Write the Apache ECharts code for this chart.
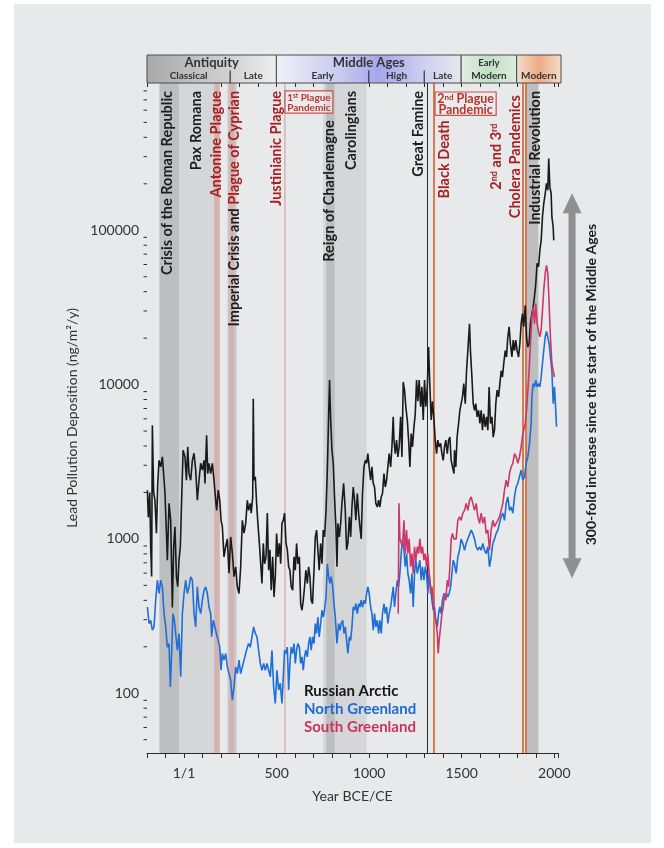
<!DOCTYPE html>
<html>
<head>
<meta charset="utf-8">
<title>Lead pollution deposition</title>
<script src="https://cdn.jsdelivr.net/npm/echarts/dist/echarts.min.js"></script>
<style>
  html, body { margin: 0; padding: 0; background: #ffffff; }
  #panel { position: absolute; left: 14px; top: 4px; width: 637px; height: 839px; background: #e8e9eb; }
  #chart { position: absolute; left: 0; top: 0; width: 664px; height: 848px; }
</style>
</head>
<body>
<div id="panel"></div>
<div id="chart"></div>
<script>
// ---- Lead deposition records: [year, ng/m²/y] ----
const russianArctic = [
  [-198,2070],[-193,1380],[-185,2000],[-180,890],[-175,570],[-171,5450],[-164,2000],[-157,1780],[-149,1090],[-142,2290],
  [-135,3230],[-126,2930],[-117,3400],[-108,3400],[-103,2000],[-95,1090],[-90,728],[-81,1700],[-72,1320],[-63,360],
  [-56,890],[-49,1200],[-41,570],[-34,490],[-27,728],[-20,890],[-13,1780],[-5,3760],[5,3400],[13,2400],
  [20,3950],[27,2650],[36,2400],[45,3230],[54,3590],[63,2790],[72,1780],[81,2400],[90,3090],[99,2790],
  [108,3230],[113,2290],[122,4700],[128,2650],[135,3090],[144,2650],[153,3090],[162,2400],[171,1780],[176,1530],
  [185,2070],[193,1780],[200,1320],[207,1200],[216,765],[225,890],[234,1000],[243,600],[252,1030],[261,807],
  [270,570],[279,660],[288,490],[297,443],[306,660],[315,1320],[324,1090],[333,1260],[342,1780],[349,1530],
  [358,1700],[363,1470],[371,1870],[374,8100],[378,2400],[385,2530],[392,1700],[399,1260],[407,935],[414,690],
  [421,515],[428,935],[435,690],[443,765],[450,1470],[457,627],[464,850],[471,465],[479,765],[486,420],
  [493,570],[500,1085],[507,765],[515,935],[522,690],[529,1260],[536,1320],[543,1470],[551,935],[558,850],
  [565,660],[572,627],[579,490],[587,465],[594,765],[601,627],[608,935],[615,690],[623,765],[630,380],
  [637,345],[644,400],[651,490],[658,627],[666,515],[673,660],[680,570],[687,400],[694,380],[702,627],
  [709,1030],[716,1140],[723,850],[730,627],[738,935],[745,690],[752,1140],[759,1030],[767,1530],[774,2790],
  [781,6180],[786,10700],[792,5890],[799,3760],[806,3090],[813,1870],[821,1140],[826,660],[831,1260],[839,1030],
  [846,1260],[853,1700],[862,2290],[871,1530],[878,850],[885,935],[893,1390],[900,1030],[907,1610],[914,2170],
  [921,1780],[928,1320],[936,1970],[943,1470],[950,1200],[957,1000],[964,1970],[972,2930],[979,3230],[986,3090],
  [993,3570],[1000,2930],[1008,2400],[1015,2930],[1022,2290],[1029,2170],[1036,1700],[1044,1610],[1051,1780],[1058,1610],
  [1065,1870],[1072,1970],[1080,2650],[1087,2170],[1094,2400],[1101,2930],[1108,3570],[1116,2930],[1123,3950],[1130,6180],
  [1134,4370],[1141,3570],[1148,4370],[1155,3400],[1162,3950],[1170,6180],[1177,3400],[1184,10400],[1191,9200],[1198,7180],
  [1206,5890],[1213,4370],[1220,2930],[1227,4820],[1234,3950],[1242,5320],[1249,6460],[1256,10700],[1263,7800],[1270,10700],
  [1278,7180],[1285,9660],[1292,5890],[1299,10700],[1306,7180],[1314,9660],[1321,17500],[1328,9660],[1335,5890],[1342,7800],
  [1350,5890],[1357,4370],[1364,3570],[1371,4370],[1378,3950],[1386,4160],[1393,3570],[1400,3230],[1407,3950],[1414,4370],
  [1422,3570],[1429,4370],[1436,4570],[1443,3230],[1450,2930],[1458,2650],[1461,3760],[1468,2930],[1475,4570],[1483,5600],
  [1490,6820],[1497,7530],[1504,8320],[1511,10150],[1519,7530],[1526,12300],[1533,16600],[1542,24800],[1547,16600],[1555,11200],
  [1562,7530],[1569,6820],[1576,7530],[1583,6180],[1591,6820],[1598,5600],[1605,6820],[1612,5070],[1619,6460],[1627,5320],
  [1634,6180],[1641,5070],[1648,9660],[1655,5600],[1663,6180],[1670,4570],[1677,5070],[1684,7530],[1691,9200],[1699,8320],
  [1706,10150],[1713,12300],[1720,11200],[1727,13700],[1735,16600],[1742,15100],[1749,20400],[1756,23700],[1763,18400],[1771,15100],
  [1778,19400],[1785,16600],[1792,19400],[1799,16600],[1807,15100],[1814,18400],[1821,24800],[1828,28800],[1835,23700],[1843,32700],
  [1850,20400],[1857,17500],[1864,18400],[1871,24800],[1879,28800],[1886,31800],[1893,37200],[1900,45200],[1907,61000],[1915,58000],
  [1922,74000],[1929,86000],[1936,122000],[1943,149000],[1951,173000],[1958,201000],[1965,182000],[1970,292000],[1976,191000],[1983,173000],
  [1987,122000],[1994,105000],[1997,86000]
];

const northGreenland = [
  [-198,362],[-189,283],[-180,297],[-171,256],[-162,269],[-153,401],[-144,540],[-135,443],[-126,540],[-117,489],
  [-108,328],[-99,269],[-90,199],[-81,210],[-74,110],[-67,181],[-60,328],[-52,297],[-45,244],[-36,190],
  [-27,244],[-18,128],[-9,328],[0,443],[9,540],[18,443],[27,489],[36,568],[45,540],[54,328],
  [63,269],[72,489],[81,362],[90,328],[99,401],[108,465],[117,489],[126,443],[135,362],[144,328],
  [149,232],[158,297],[167,269],[175,244],[184,220],[193,199],[200,141],[207,181],[216,164],[225,181],
  [234,148],[243,134],[252,121],[261,90],[270,110],[279,148],[288,134],[297,164],[306,134],[315,148],
  [324,164],[333,181],[342,199],[349,210],[358,199],[367,232],[376,269],[385,244],[394,232],[403,190],
  [412,156],[421,141],[430,156],[439,141],[448,156],[457,156],[466,128],[475,190],[484,110],[493,86],
  [502,141],[511,105],[520,116],[529,86],[538,141],[543,190],[551,181],[558,199],[565,105],[572,156],
  [579,199],[587,181],[594,210],[601,156],[608,190],[615,210],[623,199],[630,156],[637,172],[644,141],
  [651,172],[658,190],[666,172],[673,210],[680,232],[687,190],[694,232],[702,210],[709,283],[716,244],
  [723,312],[730,232],[738,283],[745,345],[752,312],[759,345],[767,421],[774,690],[781,570],[788,515],
  [795,570],[803,490],[810,380],[817,312],[826,210],[835,283],[842,256],[849,283],[857,297],[864,244],
  [871,269],[878,220],[885,181],[893,232],[900,220],[907,269],[914,362],[921,345],[928,380],[936,328],
  [943,380],[950,362],[957,401],[964,362],[972,401],[979,380],[986,443],[993,489],[1000,443],[1008,362],
  [1015,328],[1022,256],[1029,328],[1036,269],[1044,297],[1051,244],[1058,297],[1065,244],[1072,328],[1080,380],
  [1087,328],[1094,362],[1101,283],[1108,328],[1116,362],[1123,362],[1130,489],[1137,362],[1144,443],[1152,540],
  [1159,489],[1166,597],[1173,804],[1180,1000],[1188,845],[1195,660],[1202,804],[1209,597],[1216,540],[1224,443],
  [1231,597],[1238,362],[1245,597],[1252,728],[1260,597],[1267,660],[1274,728],[1281,540],[1288,660],[1296,540],
  [1303,660],[1310,597],[1317,443],[1324,597],[1332,489],[1339,401],[1346,345],[1353,362],[1360,297],[1368,269],
  [1375,328],[1382,362],[1389,328],[1396,401],[1404,443],[1411,401],[1418,443],[1425,421],[1432,443],[1440,489],
  [1447,597],[1454,728],[1461,690],[1470,597],[1479,765],[1488,845],[1497,1000],[1506,935],[1515,845],[1524,935],
  [1533,1000],[1542,1030],[1551,1140],[1560,1085],[1569,1000],[1578,890],[1587,845],[1596,890],[1605,845],[1614,935],
  [1623,845],[1632,804],[1641,890],[1650,660],[1659,765],[1668,935],[1677,1000],[1686,1085],[1695,1140],[1704,1260],
  [1713,1390],[1722,1470],[1731,1320],[1740,1700],[1749,1870],[1758,1530],[1767,1610],[1776,1470],[1785,1870],[1794,2170],
  [1803,2290],[1812,2530],[1821,2790],[1830,2400],[1839,2530],[1848,3090],[1857,3400],[1866,4150],[1875,5600],[1879,8320],
  [1886,10150],[1893,9660],[1900,10700],[1907,9660],[1915,10150],[1922,9660],[1929,11200],[1936,13700],[1943,16600],[1951,20400],
  [1958,22100],[1965,22600],[1972,18400],[1979,15100],[1987,12300],[1994,7530],[2001,9660],[2006,7530],[2012,5320]
];

const southGreenland = [
  [1157,328],[1161,1700],[1166,1000],[1173,1030],[1180,890],[1188,1320],[1195,804],[1202,1140],[1209,804],[1216,1000],
  [1224,660],[1231,804],[1238,597],[1245,890],[1252,728],[1260,890],[1267,804],[1274,1000],[1281,804],[1288,890],
  [1296,728],[1303,804],[1310,660],[1317,804],[1324,597],[1332,443],[1339,489],[1346,401],[1353,328],[1360,297],
  [1368,244],[1373,181],[1378,220],[1386,269],[1393,328],[1400,362],[1407,443],[1414,401],[1422,540],[1429,489],
  [1436,660],[1443,1000],[1450,1085],[1458,1000],[1470,1000],[1479,1320],[1488,1390],[1497,1320],[1506,1470],[1515,1530],
  [1524,1700],[1533,1530],[1542,1780],[1551,1870],[1560,1700],[1569,1530],[1578,1700],[1587,1390],[1596,1260],[1605,1470],
  [1614,1260],[1623,1390],[1632,1085],[1641,1140],[1650,845],[1659,1140],[1668,1320],[1677,1200],[1686,1260],[1695,1320],
  [1704,1390],[1713,1530],[1722,1700],[1731,2070],[1740,2400],[1749,2170],[1758,2650],[1767,2930],[1776,3090],[1785,3570],
  [1794,3400],[1803,3090],[1812,3400],[1821,3950],[1830,4820],[1835,5070],[1843,5600],[1850,6820],[1857,9200],[1864,12300],
  [1871,18400],[1879,27500],[1886,31800],[1893,24800],[1900,33500],[1907,24800],[1915,22100],[1922,20400],[1929,22600],[1936,30100],
  [1943,40900],[1951,52500],[1958,59300],[1965,52500],[1972,33500],[1979,20400],[1987,13700],[1994,12300],[2001,11200]
];

// ---- Axis ticks ----
const xTickLabels = { 0: '1/1', 500: '500', 1000: '1000', 1500: '1500', 2000: '2000' };
const yMinorTicks = [
  50,60,70,80,90, 200,300,400,500,600,700,800,900,
  2000,3000,4000,5000,6000,7000,8000,9000,
  20000,30000,40000,50000,60000,70000,80000,90000,
  200000,300000,400000,500000,600000,700000,800000
];

// ---- Historical periods (header bar) ----
const eraNames  = ['Antiquity', 'Middle Ages', 'Early', ''];
const eraStart  = [-200, 500, 1500, 1800];
const eraEnd    = [500, 1500, 1800, 2040];
const subNames  = ['Classical', 'Late', 'Early', 'High', 'Late', 'Modern', 'Modern'];
const subStart  = [-200, 250, 500, 1000, 1300, 1500, 1800];
const subEnd    = [250, 500, 1000, 1300, 1500, 1800, 2040];

// ---- Events: shaded intervals and single-year markers ----
const bandNames = ['Pax Romana', 'Crisis of the Roman Republic', 'Antonine Plague', 'Imperial Crisis',
                   'Plague of Cyprian', 'Justinianic Plague', 'Carolingians', 'Reign of Charlemagne', 'Industrial Revolution'];
const bandStart = [-27, -133, 163, 235, 245, 541, 751, 768, 1850];
const bandEnd   = [180, -27, 193, 284, 270, 549, 987, 814, 1914];
const bandKind  = ['light', 'dark', 'plague', 'mid', 'plague', 'plague', 'light', 'dark', 'dark'];

const markerNames = ['Great Famine', 'Black Death', '2nd Cholera Pandemic', '3rd Cholera Pandemic'];
const markerYears = [1315, 1347, 1829, 1846];
const markerKind  = ['famine', 'plague', 'plague', 'plague'];

// ---- Styling ----
const FONT = 'Lato, "Liberation Sans", "DejaVu Sans", sans-serif';
const INK = '#1c1c1c';
const RED = '#a82020';
const CAPTION_SIZE = 14.5;
const bandColors = { light: '#d5d6d8', dark: '#bdbec0', mid: '#c8c9cb', plague: '#d5b2b2' };
const markerColors = { famine: '#2a2a2a', plague: '#d4561f' };
const eraFills = [
  new echarts.graphic.LinearGradient(0, 0, 1, 0, [
    { offset: 0, color: '#a9a9a9' }, { offset: 0.6, color: '#cfcfcf' }, { offset: 1, color: '#eeeeee' }]),
  new echarts.graphic.LinearGradient(0, 0, 1, 0, [
    { offset: 0, color: '#f0f0f8' }, { offset: 0.35, color: '#c9c9f1' }, { offset: 0.55, color: '#a6a6ec' },
    { offset: 0.8, color: '#cfcff1' }, { offset: 1, color: '#e7e7f0' }]),
  new echarts.graphic.LinearGradient(0, 0, 1, 0, [
    { offset: 0, color: '#e3ede4' }, { offset: 0.5, color: '#bfe1c5' }, { offset: 1, color: '#dcebde' }]),
  new echarts.graphic.LinearGradient(0, 0, 1, 0, [
    { offset: 0, color: '#f3ddcf' }, { offset: 0.5, color: '#efab82' }, { offset: 1, color: '#f3dccd' }])
];
const eraTitleSize = [13, 13, 9.5, 0];

// Rotated event captions: anchor year, value at the caption's upper end (or centre), colour key
const captions = [
  { text: 'Crisis of the Roman Republic', year: -90, at: 800000, tone: 'ink', align: 'right' },
  { text: 'Pax Romana', year: 65, at: 800000, tone: 'ink', align: 'right' },
  { text: 'Antonine Plague', year: 173, at: 800000, tone: 'red', align: 'right' },
  { text: '{k|Imperial Crisis and }{r|Plague of Cyprian}', year: 272, at: 800000, tone: 'rich', align: 'right' },
  { text: 'Justinianic Plague', year: 497, at: 800000, tone: 'red', align: 'right' },
  { text: 'Reign of Charlemagne', year: 785, at: 516000, tone: 'ink', align: 'right' },
  { text: 'Carolingians', year: 906, at: 800000, tone: 'ink', align: 'right' },
  { text: 'Great Famine', year: 1266, at: 800000, tone: 'ink', align: 'right' },
  { text: 'Black Death', year: 1405, at: 516000, tone: 'red', align: 'right' },
  { text: '{r|2}{s|nd}{r| and 3}{s|rd}', year: 1689, at: 300000, tone: 'rich', align: 'center' },
  { text: 'Cholera Pandemics', year: 1788, at: 300000, tone: 'red', align: 'center' },
  { text: 'Industrial Revolution', year: 1896, at: 800000, tone: 'ink', align: 'right' }
];

// Boxed pandemic captions: [x0, x1, top value, bottom value]
const pandemicText = ['{a|1}{s|st}{a| Plague}\n{a|Pandemic}', '{b|2}{t|nd}{b| Plague}\n{b|Pandemic}'];
const pandemicBox  = [[545, 804, 800000, 575000], [1356, 1686, 787000, 556000]];

// Double arrow: year, upper value, lower value
const increaseArrow = [[2096, 174000, 556]];
const increaseText = '300-fold increase since the start of the Middle Ages';
const increaseTextAt = [2199, 10000];

const chart = echarts.init(document.getElementById('chart'), null, { renderer: 'canvas' });

const captionRich = {
  k: { fill: INK, fontSize: CAPTION_SIZE, fontWeight: 'bold', fontFamily: FONT },
  r: { fill: RED, fontSize: CAPTION_SIZE, fontWeight: 'bold', fontFamily: FONT },
  s: { fill: RED, fontSize: 9, fontWeight: 'bold', fontFamily: FONT, verticalAlign: 'top' }
};
const boxRich = {
  a: { fill: '#b8342c', fontSize: 10, fontWeight: 'bold', fontFamily: FONT, lineHeight: 10 },
  s: { fill: '#b8342c', fontSize: 6.5, fontWeight: 'bold', fontFamily: FONT, verticalAlign: 'top', lineHeight: 10 },
  b: { fill: '#b8342c', fontSize: 12.5, fontWeight: 'bold', fontFamily: FONT, lineHeight: 11 },
  t: { fill: '#b8342c', fontSize: 8, fontWeight: 'bold', fontFamily: FONT, verticalAlign: 'top', lineHeight: 11 }
};

const lineSeries = (name, data, color) => ({
  name, type: 'line', data, xAxisIndex: 0, yAxisIndex: 0, z: 3,
  showSymbol: false, symbol: 'none', silent: true,
  lineStyle: { color, width: 1.6 }, itemStyle: { color }
});

const option = {
  backgroundColor: 'transparent',
  animation: false,
  textStyle: { fontFamily: FONT },
  grid: [
    { left: 147, right: 106, top: 83, bottom: 95, outerBoundsMode: 'none', containLabel: false },
    { left: 147, right: 103, top: 55, height: 28, outerBoundsMode: 'none', containLabel: false }
  ],
  xAxis: [
    {
      type: 'value', gridIndex: 0, min: -200, max: 2020, interval: 100,
      name: 'Year BCE/CE', nameLocation: 'middle', nameGap: 36,
      nameTextStyle: { color: '#333', fontSize: 14, fontFamily: FONT },
      axisLine: { show: true, onZero: false, lineStyle: { color: '#2b2b2b', width: 1 } },
      axisTick: { show: true, length: 5, lineStyle: { color: '#2b2b2b' } },
      axisLabel: { color: '#333', fontSize: 14, margin: 13, fontFamily: FONT,
        formatter: v => (xTickLabels[v] !== undefined ? xTickLabels[v] : '') },
      splitLine: { show: false }
    },
    {
      type: 'value', gridIndex: 0, position: 'top', min: -200, max: 2020, interval: 100,
      axisLine: { show: false }, axisLabel: { show: false }, splitLine: { show: false },
      axisTick: { show: true, inside: true, length: 4, lineStyle: { color: '#2b2b2b' } }
    },
    { type: 'value', gridIndex: 1, min: -200, max: 2040, show: false }
  ],
  yAxis: [
    {
      type: 'log', logBase: 10, gridIndex: 0, min: 41, max: 900000,
      name: 'Lead Pollution Deposition (ng/m²/y)', nameLocation: 'middle', nameGap: 66,
      nameTextStyle: { color: '#333', fontSize: 14, fontFamily: FONT },
      axisLine: { show: true, lineStyle: { color: '#2b2b2b', width: 1 } },
      axisTick: { show: true, length: 6, lineStyle: { color: '#2b2b2b' } },
      axisLabel: { color: '#333', fontSize: 14, margin: 8, fontFamily: FONT,
        showMinLabel: false, showMaxLabel: false,
        formatter: v => String(Math.round(v)) },
      splitLine: { show: false }
    },
    { type: 'value', gridIndex: 1, min: 0, max: 2, show: false }
  ],
  legend: {
    orient: 'vertical', left: 294, top: 677, itemWidth: 0, itemHeight: 0, itemGap: 0,
    selectedMode: false, icon: 'rect',
    textStyle: { fontFamily: FONT, fontSize: 15, fontWeight: 'bold', lineHeight: 18 },
    data: [
      { name: 'Russian Arctic', textStyle: { color: '#161616' } },
      { name: 'North Greenland', textStyle: { color: '#1b6bd2' } },
      { name: 'South Greenland', textStyle: { color: '#c8345f' } }
    ]
  },
  series: [
    // shaded historical intervals and single-year markers
    {
      name: 'events', type: 'line', data: [], xAxisIndex: 0, yAxisIndex: 0, silent: true,
      markArea: {
        silent: true, z: 1,
        data: bandNames.map((n, i) => [
          { name: n, xAxis: bandStart[i], itemStyle: { color: bandColors[bandKind[i]], opacity: 1 } },
          { xAxis: bandEnd[i] }
        ]),
        label: { show: false }
      },
      markLine: {
        silent: true, z: 2, symbol: 'none', label: { show: false },
        data: markerNames.map((n, i) => ({
          name: n, xAxis: markerYears[i],
          lineStyle: { color: markerColors[markerKind[i]], width: markerKind[i] === 'famine' ? 1 : 1.5, type: 'solid' }
        }))
      }
    },
    // minor log ticks on the value axis
    {
      type: 'custom', xAxisIndex: 0, yAxisIndex: 0, silent: true, clip: false, z: 4,
      data: yMinorTicks.map(v => [-200, v]),
      renderItem: (params, api) => {
        const p = api.coord([api.value(0), api.value(1)]);
        return { type: 'line', shape: { x1: p[0] - 3.5, y1: p[1], x2: p[0], y2: p[1] },
                 style: { stroke: '#2b2b2b', lineWidth: 1 } };
      }
    },
    lineSeries('Russian Arctic', russianArctic, '#1a1a1a'),
    lineSeries('North Greenland', northGreenland, '#1f6fd6'),
    lineSeries('South Greenland', southGreenland, '#cc3768'),
    // rotated event captions
    {
      type: 'custom', xAxisIndex: 0, yAxisIndex: 0, silent: true, clip: false, z: 5,
      data: captions.map(c => [c.year, c.at]),
      renderItem: (params, api) => {
        const c = captions[params.dataIndex];
        const p = api.coord([api.value(0), api.value(1)]);
        const style = {
          text: c.text, align: c.align, verticalAlign: 'middle',
          fontSize: CAPTION_SIZE, fontWeight: 'bold', fontFamily: FONT,
          fill: c.tone === 'red' ? RED : INK
        };
        if (c.tone === 'rich') style.rich = captionRich;
        return { type: 'text', x: p[0], y: p[1], rotation: Math.PI / 2, style };
      }
    },
    // boxed pandemic captions
    {
      type: 'custom', xAxisIndex: 0, yAxisIndex: 0, silent: true, clip: false, z: 5,
      data: pandemicBox,
      renderItem: (params, api) => {
        const a = api.coord([api.value(0), api.value(2)]);
        const b = api.coord([api.value(1), api.value(3)]);
        return {
          type: 'group',
          children: [
            { type: 'rect', shape: { x: a[0], y: a[1], width: b[0] - a[0], height: b[1] - a[1] },
              style: { fill: 'rgba(236,236,238,0.6)', stroke: '#c9534a', lineWidth: 1.2 } },
            { type: 'text', x: (a[0] + b[0]) / 2, y: (a[1] + b[1]) / 2 + 0.5,
              style: { text: pandemicText[params.dataIndex], rich: boxRich, align: 'center', verticalAlign: 'middle' } }
          ]
        };
      }
    },
    // double arrow with its caption
    {
      type: 'custom', xAxisIndex: 0, yAxisIndex: 0, silent: true, clip: false, z: 5,
      data: increaseArrow,
      renderItem: (params, api) => {
        const t = api.coord([api.value(0), api.value(1)]);
        const b = api.coord([api.value(0), api.value(2)]);
        const x = t[0], hw = 3.5, hh = 9.5, hl = 20;
        const pts = [[x, t[1]], [x + hh, t[1] + hl], [x + hw, t[1] + hl], [x + hw, b[1] - hl], [x + hh, b[1] - hl],
                     [x, b[1]], [x - hh, b[1] - hl], [x - hw, b[1] - hl], [x - hw, t[1] + hl], [x - hh, t[1] + hl]];
        const c = api.coord(increaseTextAt);
        return {
          type: 'group',
          children: [
            { type: 'polygon', shape: { points: pts }, style: { fill: '#8f8f8f' } },
            { type: 'text', x: c[0], y: c[1], rotation: Math.PI / 2,
              style: { text: increaseText, align: 'center', verticalAlign: 'middle',
                       fontSize: 14, fontWeight: 'bold', fontFamily: FONT, fill: INK } }
          ]
        };
      }
    },
    // period header: eras
    {
      type: 'custom', xAxisIndex: 2, yAxisIndex: 1, silent: true, clip: false, z: 2,
      data: eraStart.map((s, i) => [s, eraEnd[i]]),
      renderItem: (params, api) => {
        const i = params.dataIndex;
        const a = api.coord([api.value(0), 2]);
        const b = api.coord([api.value(1), 0]);
        const children = [
          { type: 'rect', shape: { x: a[0], y: a[1], width: b[0] - a[0], height: b[1] - a[1] },
            style: { fill: eraFills[i], stroke: '#4a4a4a', lineWidth: 1 } }
        ];
        if (eraNames[i]) {
          const m = api.coord([(api.value(0) + api.value(1)) / 2, 1.46]);
          children.push({ type: 'text', x: m[0], y: m[1],
            style: { text: eraNames[i], align: 'center', verticalAlign: 'middle',
                     fontSize: eraTitleSize[i], fontWeight: 'bold', fontFamily: FONT, fill: '#333' } });
        }
        return { type: 'group', children };
      }
    },
    // period header: sub-periods
    {
      type: 'custom', xAxisIndex: 2, yAxisIndex: 1, silent: true, clip: false, z: 3,
      data: subStart.map((s, i) => [s, subEnd[i]]),
      renderItem: (params, api) => {
        const i = params.dataIndex;
        const s = api.value(0), e = api.value(1);
        const m = api.coord([(s + e) / 2, 0.5]);
        const children = [
          { type: 'text', x: m[0], y: m[1],
            style: { text: subNames[i], align: 'center', verticalAlign: 'middle',
                     fontSize: 10, fontWeight: 'bold', fontFamily: FONT, fill: '#333' } }
        ];
        if (eraStart.indexOf(s) < 0) {
          const p0 = api.coord([s, 0]), p1 = api.coord([s, 0.9]);
          children.push({ type: 'line', shape: { x1: p0[0], y1: p0[1], x2: p1[0], y2: p1[1] },
            style: { stroke: '#333', lineWidth: 1.2 } });
        }
        return { type: 'group', children };
      }
    }
  ]
};

chart.setOption(option);
</script>
</body>
</html>
